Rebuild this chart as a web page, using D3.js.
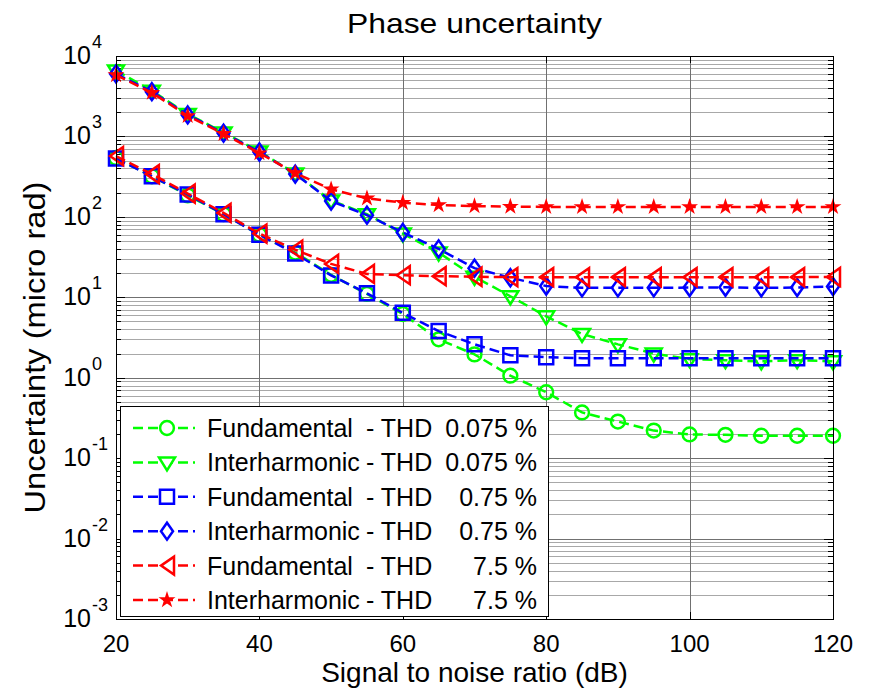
<!DOCTYPE html>
<html>
<head>
<meta charset="utf-8">
<script src="https://cdn.jsdelivr.net/npm/d3@7"></script>
<style>
  body { margin: 0; background: #fff; }
  svg { display: block; font-family: "Liberation Sans", Arial, sans-serif; }
</style>
</head>
<body>
<svg id="chart" width="872" height="691"></svg>
<script>
// Signal to noise ratio (dB)
const snr = [20, 25, 30, 35, 40, 45, 50, 55, 60, 65, 70, 75, 80, 85, 90, 95, 100, 105, 110, 115, 120];

// Uncertainty (micro rad)
const fund0075 = [540, 320, 185, 108, 60, 36, 19, 11, 6.2, 3.0, 1.95, 1.06, 0.66, 0.37, 0.285, 0.22, 0.197, 0.195, 0.19, 0.19, 0.19];
const inter0075 = [6600, 3700, 1900, 1120, 650, 345, 160, 108, 62, 36, 18, 10.3, 5.8, 3.5, 2.6, 2.0, 1.7, 1.65, 1.6, 1.65, 1.6];
const fund075 = [530, 320, 190, 108, 60, 35, 18.7, 11.2, 6.4, 3.8, 2.6, 1.9, 1.8, 1.75, 1.75, 1.75, 1.75, 1.75, 1.75, 1.75, 1.75];
const inter075 = [6000, 3600, 1850, 1100, 640, 340, 157, 105, 64, 40, 23, 17.5, 13.8, 13.1, 13.1, 13.1, 13.2, 13.3, 13.1, 13.2, 13.6];
const fund75 = [570, 340, 195, 112, 62, 39, 26, 19.5, 18.8, 18.3, 18, 17.8, 17.8, 17.8, 17.8, 17.8, 17.8, 17.8, 17.8, 17.8, 17.9];
const inter75 = [5800, 3500, 1800, 1080, 620, 350, 220, 170, 150, 140, 136, 134, 133, 133, 133, 133, 133, 133, 133, 133, 133];

const seriesNames = ['Fundamental', 'Interharmonic', 'Fundamental', 'Interharmonic', 'Fundamental', 'Interharmonic'];
const seriesThd = ['0.075 %', '0.075 %', '0.75 %', '0.75 %', '7.5 %', '7.5 %'];
const seriesColors = ['#00ff00', '#00ff00', '#0000ff', '#0000ff', '#ff0000', '#ff0000'];
const seriesMarkers = ['circle', 'triDown', 'square', 'diamond', 'triLeft', 'star'];
const seriesValues = [fund0075, inter0075, fund075, inter075, fund75, inter75];

const xTicks = [20, 40, 60, 80, 100, 120];
const yDecades = [-3, -2, -1, 0, 1, 2, 3, 4];

const margin = { top: 56, left: 116, right: 39, bottom: 72 };
const width = 872 - margin.left - margin.right;
const height = 691 - margin.top - margin.bottom;

const svg = d3.select('#chart');
const g = svg.append('g').attr('transform', `translate(${margin.left},${margin.top})`);

const x = d3.scaleLinear().domain([20, 120]).range([0, width]);
const y = d3.scaleLog().domain([1e-3, 1e4]).range([height, 0]);

// Minor + major horizontal grid
const minorVals = [];
yDecades.slice(0, -1).forEach((k) => {
  for (let m = 2; m <= 9; m++) minorVals.push(m * Math.pow(10, k));
});
const majorVals = yDecades.map((k) => Math.pow(10, k));

g.append('g')
  .selectAll('line')
  .data(minorVals)
  .join('line')
  .attr('x1', 0)
  .attr('x2', width)
  .attr('y1', (d) => Math.round(y(d)) + 0.5)
  .attr('y2', (d) => Math.round(y(d)) + 0.5)
  .attr('stroke', '#a8a8a8')
  .attr('stroke-width', 1);

g.append('g')
  .selectAll('line')
  .data(majorVals)
  .join('line')
  .attr('x1', 0)
  .attr('x2', width)
  .attr('y1', (d) => Math.round(y(d)) + 0.5)
  .attr('y2', (d) => Math.round(y(d)) + 0.5)
  .attr('stroke', '#707070')
  .attr('stroke-width', 1);

g.append('g')
  .selectAll('line')
  .data(xTicks.slice(1, -1))
  .join('line')
  .attr('x1', (d) => Math.round(x(d)) + 0.5)
  .attr('x2', (d) => Math.round(x(d)) + 0.5)
  .attr('y1', 0)
  .attr('y2', height)
  .attr('stroke', '#707070')
  .attr('stroke-width', 1);

// Inside tick marks on all four sides
const tickG = g.append('g').attr('stroke', '#000').attr('stroke-width', 1);
[minorVals, majorVals].forEach((vals, i) => {
  const len = i ? 9 : 5;
  vals.forEach((v) => {
    const yy = Math.round(y(v)) + 0.5;
    tickG.append('line').attr('x1', 0).attr('x2', len).attr('y1', yy).attr('y2', yy);
    tickG.append('line').attr('x1', width - len).attr('x2', width).attr('y1', yy).attr('y2', yy);
  });
});
xTicks.forEach((v) => {
  const xx = Math.round(x(v)) + 0.5;
  tickG.append('line').attr('x1', xx).attr('x2', xx).attr('y1', 0).attr('y2', 7);
  tickG.append('line').attr('x1', xx).attr('x2', xx).attr('y1', height - 7).attr('y2', height);
});

// Series lines and markers
const line = d3
  .line()
  .x((d, i) => x(snr[i]))
  .y((d) => y(d));

function markerPath(type) {
  switch (type) {
    case 'circle':
      return d3.symbol(d3.symbolCircle, 150)();
    case 'square':
      return 'M-7,-7H7V7H-7Z';
    case 'diamond':
      return 'M0,-8.5L6,0L0,8.5L-6,0Z';
    case 'triDown':
      return 'M-8,-5H8L0,8Z';
    case 'triLeft':
      return 'M-6,0L7,-9V9Z';
    default:
      return d3.symbol(d3.symbolStar, 36)();
  }
}

seriesValues.forEach((vals, s) => {
  const sg = g.append('g');
  sg.append('path')
    .datum(vals)
    .attr('d', line)
    .attr('fill', 'none')
    .attr('stroke', seriesColors[s])
    .attr('stroke-width', 2.5)
    .attr('stroke-dasharray', '10,5');
  sg.selectAll('path.marker')
    .data(vals)
    .join('path')
    .attr('class', 'marker')
    .attr('transform', (d, i) => `translate(${x(snr[i])},${y(d)})`)
    .attr('d', markerPath(seriesMarkers[s]))
    .attr('fill', seriesMarkers[s] === 'star' ? seriesColors[s] : 'none')
    .attr('stroke', seriesColors[s])
    .attr('stroke-width', seriesMarkers[s] === 'star' ? 2 : 2.5);
});

// Frame
g.append('rect')
  .attr('x', 0.5)
  .attr('y', 0.5)
  .attr('width', width)
  .attr('height', height)
  .attr('fill', 'none')
  .attr('stroke', '#000');

// Legend
const legend = g.append('g').attr('transform', 'translate(4,350)');
legend
  .append('rect')
  .attr('x', 0.5)
  .attr('y', 0.5)
  .attr('width', 428)
  .attr('height', 210)
  .attr('fill', '#fff')
  .attr('stroke', '#000');

const rows = legend
  .selectAll('g.row')
  .data(seriesNames)
  .join('g')
  .attr('class', 'row')
  .attr('transform', (d, i) => `translate(0,${22 + i * 34.4})`);

rows
  .append('line')
  .attr('x1', 13)
  .attr('x2', 75)
  .attr('stroke', (d, i) => seriesColors[i])
  .attr('stroke-width', 2.5)
  .attr('stroke-dasharray', '10,5');
rows
  .append('path')
  .attr('transform', 'translate(47,0)')
  .attr('d', (d, i) => markerPath(seriesMarkers[i]))
  .attr('fill', (d, i) => (seriesMarkers[i] === 'star' ? seriesColors[i] : '#fff'))
  .attr('stroke', (d, i) => seriesColors[i])
  .attr('stroke-width', (d, i) => (seriesMarkers[i] === 'star' ? 2 : 2.5));

const rowText = rows.append('text').attr('y', 9).attr('font-size', 25).attr('fill', '#000');
rowText.append('tspan').attr('x', 87).text((d) => d);
rowText.append('tspan').attr('x', 246).text('- THD');
rows
  .append('text')
  .attr('x', 417)
  .attr('y', 9)
  .attr('font-size', 25)
  .attr('text-anchor', 'end')
  .text((d, i) => seriesThd[i]);

// X tick labels
g.append('g')
  .selectAll('text')
  .data(xTicks)
  .join('text')
  .attr('x', (d) => x(d))
  .attr('y', height + 33)
  .attr('text-anchor', 'middle')
  .attr('font-size', 24)
  .text((d) => d);

// Y tick labels as 10 with superscript exponent
const yLab = g.append('g').selectAll('g').data(yDecades).join('g')
  .attr('transform', (d) => `translate(-25,${y(Math.pow(10, d))})`);
yLab.append('text').attr('text-anchor', 'end').attr('y', 8).attr('font-size', 25).text('10');
yLab.append('text').attr('x', 1).attr('y', -8).attr('font-size', 18).text((d) => d);

// Titles
svg
  .append('text')
  .attr('x', margin.left + width / 2)
  .attr('y', 33)
  .attr('text-anchor', 'middle')
  .attr('font-size', 28)
  .attr('textLength', 255)
  .attr('lengthAdjust', 'spacingAndGlyphs')
  .text('Phase uncertainty');

svg
  .append('text')
  .attr('x', margin.left + width / 2)
  .attr('y', 682)
  .attr('text-anchor', 'middle')
  .attr('font-size', 28)
  .text('Signal to noise ratio (dB)');

svg
  .append('text')
  .attr('transform', `translate(45,${margin.top + height / 2 + 10}) rotate(-90)`)
  .attr('text-anchor', 'middle')
  .attr('font-size', 30)
  .attr('textLength', 332)
  .attr('lengthAdjust', 'spacingAndGlyphs')
  .text('Uncertainty (micro rad)');
</script>
</body>
</html>
